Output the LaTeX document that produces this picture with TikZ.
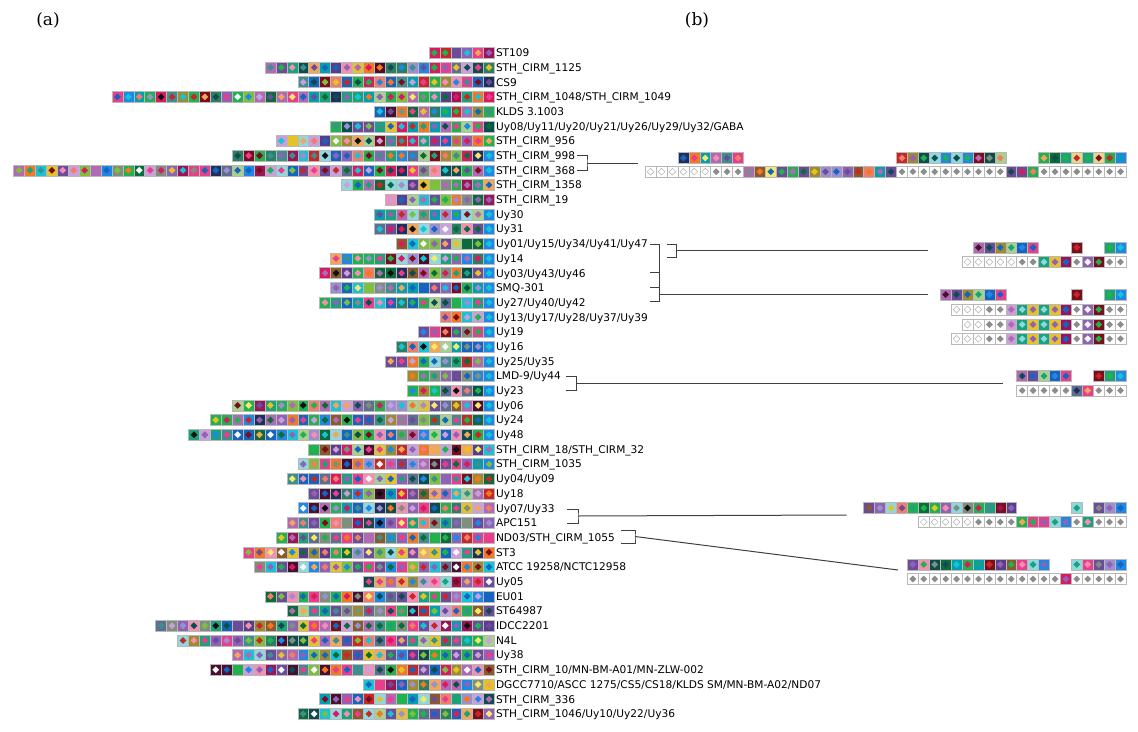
\documentclass[tikz,border=0pt]{standalone}
\usepackage{fontspec}
\newfontfamily\labfont{DejaVu Sans}
\newfontfamily\panfont{DejaVu Serif}
\definecolor{p1}{HTML}{1F2F5C}
\definecolor{p2}{HTML}{1565C0}
\definecolor{p3}{HTML}{1E88E5}
\definecolor{p4}{HTML}{00A0B0}
\definecolor{p5}{HTML}{17C3D6}
\definecolor{p6}{HTML}{8FD8DF}
\definecolor{p7}{HTML}{1AA37A}
\definecolor{p8}{HTML}{20B24E}
\definecolor{p9}{HTML}{0B6B3A}
\definecolor{p10}{HTML}{0D4D4D}
\definecolor{p11}{HTML}{7FBF3F}
\definecolor{p12}{HTML}{A9D18E}
\definecolor{p13}{HTML}{6B4C9A}
\definecolor{p14}{HTML}{8E63B5}
\definecolor{p15}{HTML}{9B8FD0}
\definecolor{p16}{HTML}{5A3D8A}
\definecolor{p17}{HTML}{B06AB3}
\definecolor{p18}{HTML}{E83E8C}
\definecolor{p19}{HTML}{D81B60}
\definecolor{p20}{HTML}{F48FB1}
\definecolor{p21}{HTML}{C62828}
\definecolor{p22}{HTML}{7B0D1E}
\definecolor{p23}{HTML}{4A0E2E}
\definecolor{p24}{HTML}{F5771F}
\definecolor{p25}{HTML}{F2A65A}
\definecolor{p26}{HTML}{E6C229}
\definecolor{p27}{HTML}{F3EA6C}
\definecolor{p28}{HTML}{9C8B2F}
\definecolor{p29}{HTML}{8B5A2B}
\definecolor{p30}{HTML}{F07C6C}
\definecolor{p31}{HTML}{7F8F7F}
\definecolor{p32}{HTML}{5E6E8E}
\definecolor{p33}{HTML}{111111}
\definecolor{p34}{HTML}{F7F7F7}
\definecolor{p35}{HTML}{E7D68C}
\definecolor{p36}{HTML}{3D8F8F}
\definecolor{p37}{HTML}{C9A0DC}
\definecolor{p38}{HTML}{2A7F62}
\definecolor{p39}{HTML}{9C1457}
\definecolor{gdia}{HTML}{8C8C8C}
\definecolor{conncol}{HTML}{404040}
\pgfmathdeclarerandomlist{fills}{{p2}{p3}{p4}{p7}{p7}{p8}{p8}{p9}{p13}{p13}{p14}{p14}{p15}{p16}{p17}{p17}{p18}{p18}{p19}{p21}{p22}{p24}{p25}{p26}{p28}{p29}{p30}{p31}{p32}{p36}{p38}{p1}{p5}{p6}{p10}{p11}{p12}{p20}{p37}{p39}{p23}{p2}{p8}{p13}{p3}}
\pgfmathdeclarerandomlist{dias}{{p2}{p3}{p5}{p7}{p8}{p9}{p10}{p13}{p14}{p15}{p17}{p18}{p19}{p20}{p21}{p22}{p24}{p25}{p26}{p27}{p30}{p31}{p33}{p34}{p36}{p37}{p11}{p8}{p14}{p18}{p2}}
\tikzset{
  sqb/.style={draw=black!28, line width=0.5pt},
  lab/.style={anchor=base west, inner sep=0pt, font=\labfont\fontsize{10.6}{12}\selectfont},
  conn/.style={draw=conncol, line width=1pt},
  panel/.style={inner sep=0pt, font=\panfont\fontsize{17}{17}\selectfont}
}
% one spacer square: x left, y centre, fill, diamond
\newcommand\spsq[4]{%
  \path[fill=#3] (#1,#2-5.5) rectangle ++(10.93,11);
  \path[fill=#4] ({#1+5.465},{#2-3.4}) -- ++(3.4,3.4) -- ++(-3.4,3.4) -- ++(-3.4,-3.4) -- cycle;
  \draw[sqb] (#1,#2-5.5) rectangle ++(10.93,11);
}
\newcommand\spopen[2]{%
  \path[fill=white] (#1,#2-5.5) rectangle ++(10.93,11);
  \draw[fill=white, draw=black!30, line width=0.5pt] ({#1+5.465},{#2-3.4}) -- ++(3.4,3.4) -- ++(-3.4,3.4) -- ++(-3.4,-3.4) -- cycle;
  \draw[sqb] (#1,#2-5.5) rectangle ++(10.93,11);
}
\newcommand\spgray[2]{\spsq{#1}{#2}{white}{gdia}}
\newcommand\openrun[4]{\foreach \kk in {#3,...,#4}{\spopen{#1+\kk*10.93}{#2}}}
\newcommand\grayrun[4]{\foreach \kk in {#3,...,#4}{\spgray{#1+\kk*10.93}{#2}}}
\newcommand\colrun[4]{\foreach \fc/\dc [count=\kk from #3] in {#4}{\spsq{#1+\kk*10.93}{#2}{\fc}{\dc}}}
% panel (a) row: index, number of spacers, label
\newcommand\arow[3]{%
  \pgfmathsetmacro\ry{52.8+(#1-1)*14.69}%
  \foreach \kk in {1,...,#2}{%
    \pgfmathrandomitem{\fa}{fills}%
    \pgfmathrandomitem{\da}{dias}%
    \ifx\fa\da \def\da{p34}\fi
    \spsq{494.5-\kk*10.93}{\ry}{\fa}{\da}}%
  \node[lab] (L#1) at (495.8,\ry+3.86) {#3};
}
\begin{document}
\begin{tikzpicture}[x=1pt,y=-1pt]
\useasboundingbox[fill=white] (0,0) rectangle (1138,731);
\pgfmathsetseed{2024}
\node[panel] (pa) at (48,20) {(a)};
\node[panel] (pb) at (697,20) {(b)};
% ---------------- panel (a)
\arow{1}{6}{ST109}
\arow{2}{21}{STH\_CIRM\_1125}
\arow{3}{18}{CS9}
\arow{4}{35}{STH\_CIRM\_1048/STH\_CIRM\_1049}
\arow{5}{11}{KLDS 3.1003}
\arow{6}{15}{Uy08/Uy11/Uy20/Uy21/Uy26/Uy29/Uy32/GABA}
\arow{7}{20}{STH\_CIRM\_956}
\arow{8}{24}{STH\_CIRM\_998}
\arow{9}{44}{STH\_CIRM\_368}
\arow{10}{14}{STH\_CIRM\_1358}
\arow{11}{10}{STH\_CIRM\_19}
\arow{12}{11}{Uy30}
\arow{13}{11}{Uy31}
\arow{14}{9}{Uy01/Uy15/Uy34/Uy41/Uy47}
\arow{15}{15}{Uy14}
\arow{16}{16}{Uy03/Uy43/Uy46}
\arow{17}{15}{SMQ-301}
\arow{18}{16}{Uy27/Uy40/Uy42}
\arow{19}{5}{Uy13/Uy17/Uy28/Uy37/Uy39}
\arow{20}{7}{Uy19}
\arow{21}{9}{Uy16}
\arow{22}{10}{Uy25/Uy35}
\arow{23}{8}{LMD-9/Uy44}
\arow{24}{8}{Uy23}
\arow{25}{24}{Uy06}
\arow{26}{26}{Uy24}
\arow{27}{28}{Uy48}
\arow{28}{17}{STH\_CIRM\_18/STH\_CIRM\_32}
\arow{29}{18}{STH\_CIRM\_1035}
\arow{30}{19}{Uy04/Uy09}
\arow{31}{17}{Uy18}
\arow{32}{18}{Uy07/Uy33}
\arow{33}{19}{APC151}
\arow{34}{20}{ND03/STH\_CIRM\_1055}
\arow{35}{23}{ST3}
\arow{36}{22}{ATCC 19258/NCTC12958}
\arow{37}{12}{Uy05}
\arow{38}{21}{EU01}
\arow{39}{19}{ST64987}
\arow{40}{31}{IDCC2201}
\arow{41}{29}{N4L}
\arow{42}{24}{Uy38}
\arow{43}{26}{STH\_CIRM\_10/MN-BM-A01/MN-ZLW-002}
\arow{44}{12}{DGCC7710/ASCC 1275/CS5/CS18/KLDS SM/MN-BM-A02/ND07}
\arow{45}{16}{STH\_CIRM\_336}
\arow{46}{18}{STH\_CIRM\_1046/Uy10/Uy22/Uy36}
\foreach \r in {8,9,12,13,14,15,16,17,18,19,20,21,22,23,24,25,26,27}{%
  \pgfmathsetmacro\ry{52.8+(\r-1)*14.69}\spsq{494.5-10.93}{\ry}{p3}{p5}}
% ---------------- panel (b)
% group 1
\colrun{645.1}{158}{3}{p1/p2,p24/p18,p4/p27,p17/p20,p36/p13,p18/p30}
\colrun{645.1}{158}{23}{p21/p30,p28/p14,p10/p8,p6/p10,p3/p8,p6/p10,p3/p8,p22/p17,p10/p31,p12/p30}
\colrun{645.1}{158}{36}{p8/p25,p9/p10,p7/p8,p35/p21,p7/p8,p35/p22,p8/p21,p3/p4}
\openrun{645.1}{171.7}{0}{5}
\grayrun{645.1}{171.7}{6}{8}
\colrun{645.1}{171.7}{9}{p17/p31,p29/p24,p27/p2,p13/p8,p8/p17,p13/p9,p28/p26,p15/p13,p15/p2,p14/p13,p29/p21,p30/p24,p4/p17,p13/p10}
\grayrun{645.1}{171.7}{23}{32}
\colrun{645.1}{171.7}{33}{p13/p10,p13/p19,p8/p30}
\grayrun{645.1}{171.7}{36}{43}
% group 2
\colrun{962.05}{247.5}{1}{p17/p23,p13/p10,p28/p2,p12/p7,p2/p3,p18/p2}
\colrun{962.05}{247.5}{10}{p22/p21}
\colrun{962.05}{247.5}{13}{p7/p8,p3/p5}
\openrun{962.05}{262}{0}{4}
\grayrun{962.05}{262}{5}{6}
\colrun{962.05}{262}{7}{p7/p6,p26/p14,p39/p2}
\grayrun{962.05}{262}{10}{10}
\colrun{962.05}{262}{11}{p14/p34,p22/p8}
\grayrun{962.05}{262}{13}{14}
% group 3
\colrun{940.17}{294.5}{0}{p17/p23,p13/p10,p28/p2,p12/p7,p2/p3,p18/p2}
\colrun{951.1}{294.5}{11}{p22/p21}
\colrun{951.1}{294.5}{14}{p7/p8,p3/p5}
\foreach \yy/\st in {309.5/0,324.5/1,338.8/0}{%
  \openrun{951.1}{\yy}{\st}{2}
  \grayrun{951.1}{\yy}{3}{4}
  \colrun{951.1}{\yy}{5}{p37/p17,p7/p6,p26/p14,p7/p6,p26/p14,p39/p2}
  \grayrun{951.1}{\yy}{11}{11}
  \colrun{951.1}{\yy}{12}{p14/p34,p22/p8}
  \grayrun{951.1}{\yy}{14}{15}
}
% group 4
\colrun{1016.7}{376}{0}{p17/p10,p13/p2,p12/p7,p2/p3,p18/p2}
\colrun{1016.7}{376}{7}{p22/p21,p7/p8,p3/p5}
\grayrun{1016.7}{390.5}{0}{4}
\colrun{1016.7}{390.5}{5}{p32/p1,p18/p25}
\grayrun{1016.7}{390.5}{7}{9}
% group 5
\colrun{863.65}{508}{0}{p13/p29,p14/p15,p6/p26,p30/p13,p8/p7,p9/p8,p8/p26,p14/p20,p6/p31,p31/p33,p8/p19,p7/p36,p22/p39,p16/p14}
\colrun{918.3}{508}{14}{p6/p7}
\colrun{918.3}{508}{16}{p13/p31,p15/p14,p3/p2}
\openrun{918.3}{522}{0}{4}
\grayrun{918.3}{522}{5}{8}
\colrun{918.3}{522}{9}{p8/p25,p18/p8,p18/p14,p6/p7,p3/p14}
\grayrun{918.3}{522}{14}{14}
\colrun{918.3}{522}{15}{p7/p20}
\grayrun{918.3}{522}{16}{18}
% group 6
\colrun{907.4}{564.5}{0}{p13/p14,p20/p8,p10/p31,p9/p10,p4/p5,p8/p19,p4/p7,p22/p21,p16/p14,p29/p8,p18/p20,p6/p7,p3/p14}
\colrun{907.4}{564.5}{15}{p6/p7,p18/p20,p13/p31,p15/p14,p3/p2}
\grayrun{907.4}{579}{0}{13}
\colrun{907.4}{579}{14}{p19/p14}
\grayrun{907.4}{579}{15}{19}
% ---------------- connectors
\coordinate (a1t) at (577,155.5); \coordinate (a1b) at (577,170.3);
\coordinate (a1m) at (587,163); \coordinate (b1) at (637.7,163);
\draw[conn] (a1t) -| (a1m) |- (a1b);
\draw[conn] (a1m) -- (b1);
% groups 2 and 3
\coordinate (c1) at (650,244.3); \coordinate (c2) at (650,272.7);
\coordinate (c3) at (650,287.3); \coordinate (c4) at (650,301.7);
\coordinate (cv) at (659.3,294.3); \coordinate (b3) at (928,294.3);
\draw[conn] (c1) -- (c1-|cv) -- (c4-|cv) -- (c4);
\draw[conn] (c2) -- (c2-|cv);
\draw[conn] (c3) -- (c3-|cv);
\draw[conn] (cv) -- (b3);
\coordinate (d1) at (667.3,244.3); \coordinate (d2) at (667.3,257.7);
\coordinate (dv) at (676.7,250.7); \coordinate (b2) at (928,250.7);
\draw[conn] (d1) -| (dv) |- (d2);
\draw[conn] (dv) -- (b2);
% group 4
\coordinate (e1) at (566,376); \coordinate (e2) at (566,390.7);
\coordinate (ev) at (576.5,383.3); \coordinate (b4) at (1003,383.3);
\draw[conn] (e1) -| (ev) |- (e2);
\draw[conn] (ev) -- (b4);
% group 5
\coordinate (f1) at (567,509.5); \coordinate (f2) at (567,523);
\coordinate (fv) at (578,516); \coordinate (b5) at (846.7,515);
\draw[conn] (f1) -| (fv) |- (f2);
\draw[conn] (fv) -- (b5);
% group 6
\coordinate (g1) at (621,530); \coordinate (g2) at (621,543);
\coordinate (gv) at (635,536.5); \coordinate (b6) at (898,570);
\draw[conn] (g1) -| (gv) |- (g2);
\draw[conn] (gv) -- (b6);
\end{tikzpicture}
\end{document}
